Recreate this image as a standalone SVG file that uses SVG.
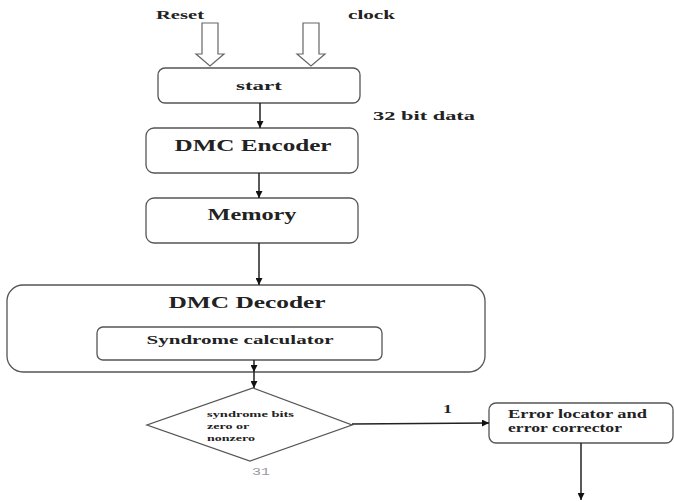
<svg xmlns="http://www.w3.org/2000/svg" width="674" height="502" viewBox="0 0 674 502">
<defs>
<marker id="ah" viewBox="0 0 10 10" refX="10" refY="5" markerWidth="7" markerHeight="7" orient="auto" markerUnits="userSpaceOnUse">
<path d="M0,0 L10,5 L0,10 z" fill="#111"/>
</marker>
<style>
.box{fill:#fff;stroke:#555;stroke-width:1.3}
.t{font-family:"Liberation Serif","Times New Roman",serif;font-weight:bold;fill:#222}
.c{stroke:#222;stroke-width:1.5;fill:none}
.hollow{fill:#fff;stroke:#666;stroke-width:1.2}
</style>
</defs>
<rect width="674" height="502" fill="#fff"/>
<g id="labels">
<text class="t" x="156" y="19" font-size="12" textLength="48" lengthAdjust="spacingAndGlyphs">Reset</text>
<text class="t" x="348" y="19" font-size="12" textLength="47" lengthAdjust="spacingAndGlyphs" font-family="Liberation Sans, sans-serif" fill="#333">clock</text>
<text class="t" x="373" y="120" font-size="12" textLength="102" lengthAdjust="spacingAndGlyphs">32 bit data</text>
<text class="t" x="443" y="413" font-size="12" textLength="9" lengthAdjust="spacingAndGlyphs">1</text>
<text x="252" y="475" font-size="11" fill="#999" font-family="Liberation Mono, monospace" textLength="18" lengthAdjust="spacingAndGlyphs">31</text>
</g>
<g id="inputs">
<path class="hollow" d="M202,23 H218 V54 H224 L210,66 L196,54 H202 Z"/>
<path class="hollow" d="M303,23 H319 V54 H325 L311,66 L297,54 H303 Z"/>
</g>
<g id="start">
<rect class="box" x="158" y="68" width="202" height="35" rx="7"/>
<text class="t" x="259" y="90" font-size="13" text-anchor="middle" font-family="DejaVu Sans, sans-serif" textLength="46" lengthAdjust="spacingAndGlyphs">start</text>
</g>
<g id="encoder">
<rect class="box" x="146" y="128" width="212" height="45" rx="8"/>
<text class="t" x="253" y="151" font-size="16" text-anchor="middle" textLength="157" lengthAdjust="spacingAndGlyphs">DMC Encoder</text>
</g>
<g id="memory">
<rect class="box" x="146" y="198" width="212" height="45" rx="8"/>
<text class="t" x="252" y="220" font-size="16" text-anchor="middle" textLength="89" lengthAdjust="spacingAndGlyphs">Memory</text>
</g>
<g id="decoder">
<rect class="box" x="7" y="285" width="478" height="87" rx="16"/>
<text class="t" x="247" y="308" font-size="16" text-anchor="middle" textLength="157" lengthAdjust="spacingAndGlyphs">DMC Decoder</text>
</g>
<g id="syndrome">
<rect class="box" x="97" y="327" width="285" height="33" rx="6"/>
<text class="t" x="240" y="344" font-size="13" text-anchor="middle" textLength="187" lengthAdjust="spacingAndGlyphs">Syndrome calculator</text>
</g>
<g id="decision">
<polygon class="box" points="253,388 352,425 250,461 147,425"/>
<text class="t" font-size="9" fill="#333" font-weight="normal" style="font-weight:600">
<tspan x="207" y="417" textLength="87" lengthAdjust="spacingAndGlyphs">syndrome bits</tspan>
<tspan x="207" y="429" textLength="42" lengthAdjust="spacingAndGlyphs">zero or</tspan>
<tspan x="207" y="441" textLength="48" lengthAdjust="spacingAndGlyphs">nonzero</tspan>
</text>
</g>
<g id="corrector">
<rect class="box" x="489" y="403" width="184" height="40" rx="7"/>
<text class="t" font-size="13">
<tspan x="508" y="418" textLength="139" lengthAdjust="spacingAndGlyphs">Error locator and</tspan>
<tspan x="508" y="432" textLength="114" lengthAdjust="spacingAndGlyphs">error corrector</tspan>
</text>
</g>
<g id="connectors">
<line class="c" x1="260" y1="103" x2="260" y2="128" marker-end="url(#ah)"/>
<line class="c" x1="259" y1="173" x2="259" y2="198" marker-end="url(#ah)"/>
<line class="c" x1="259" y1="243" x2="259" y2="285" marker-end="url(#ah)"/>
<line class="c" x1="254" y1="360" x2="254" y2="372" marker-end="url(#ah)"/>
<line class="c" x1="254" y1="372" x2="254" y2="388" marker-end="url(#ah)"/>
<line class="c" x1="352" y1="424" x2="489" y2="423" stroke-width="1.2" marker-end="url(#ah)"/>
<line class="c" x1="581" y1="443" x2="581" y2="500" marker-end="url(#ah)"/>
</g>
</svg>
